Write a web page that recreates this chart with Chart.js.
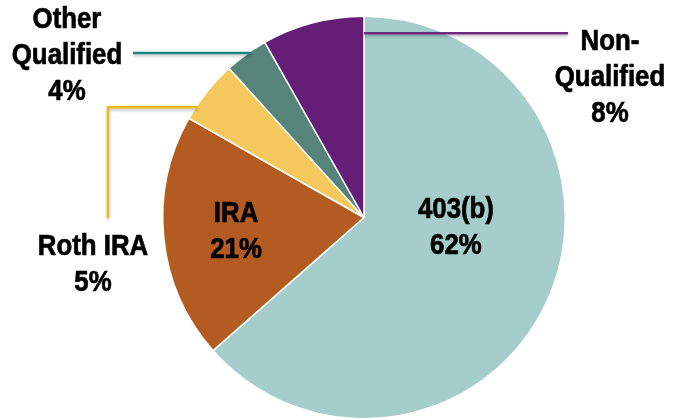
<!DOCTYPE html>
<html>
<head>
<meta charset="utf-8">
<script src="https://cdn.jsdelivr.net/npm/chart.js@4"></script>
<style>
  html, body { margin: 0; padding: 0; background: #fff; }
  #wrap { width: 674px; height: 420px; }
</style>
</head>
<body>
<div id="wrap"><canvas id="chartJSContainer"></canvas></div>
<script>
// slice sizes as drawn in the picture; printed labels as written on it
const categories = ["403(b)", "IRA", "Roth IRA", "Other Qualified", "Non-Qualified"];
const shares = [63.5, 19.7, 5.1, 3.5, 8.2];
const printedPct = ["62%", "21%", "5%", "4%", "8%"];
const sliceColors = ["#A4CDCB", "#B35B20", "#F4C85D", "#56837A", "#651E75"];

const FONT = 'bold 29px "Liberation Sans", Arial, sans-serif';
const SQUEEZE = 0.89; // narrow the type like a condensed face

// where each label goes; outside labels get a leader line
const labelSpots = [
  { lines: ["403(b)"], inside: true, frac: 0.423, rad: 0.46 },
  { lines: ["IRA"], inside: true, frac: 0.49, rad: 0.64 },
  { lines: ["Roth IRA"], x: 93, y: 247, lead: { color: "#F2B71E", frac: 0.22, rad: 0.99, toX: 108, downTo: 218 } },
  { lines: ["Other", "Qualified"], x: 67, y: 20, lead: { color: "#14887E", frac: 0.62, rad: 0.99, toX: 133 } },
  { lines: ["Non-", "Qualified"], x: 610, y: 42, lead: { color: "#6E2A80", frac: 1.0, rad: 0.915, toX: 568 } }
];

const labelPlugin = {
  id: "pieLabels",
  afterDatasetsDraw(chart) {
    const ctx = chart.ctx;
    const arcs = chart.getDatasetMeta(0).data;
    ctx.save();
    arcs.forEach((arc, i) => {
      const spot = labelSpots[i];
      const p = arc.getProps(["x", "y", "startAngle", "endAngle", "outerRadius"], true);
      const pointAt = (frac, rad) => {
        const a = p.startAngle + (p.endAngle - p.startAngle) * frac;
        return { x: p.x + Math.cos(a) * p.outerRadius * rad, y: p.y + Math.sin(a) * p.outerRadius * rad };
      };
      let cx, cy;
      if (spot.inside) {
        const c = pointAt(spot.frac, spot.rad);
        cx = c.x; cy = c.y - 18;
      } else {
        cx = spot.x; cy = spot.y;
        const l = spot.lead;
        const a = pointAt(l.frac, l.rad);
        ctx.save();
        ctx.strokeStyle = l.color;
        ctx.lineWidth = 2.5;
        ctx.shadowColor = "rgba(0,0,0,0.25)";
        ctx.shadowBlur = 3;
        ctx.shadowOffsetY = 2;
        ctx.beginPath();
        ctx.moveTo(a.x, a.y);
        ctx.lineTo(l.toX, a.y);
        if (l.downTo) ctx.lineTo(l.toX, l.downTo);
        ctx.stroke();
        ctx.restore();
      }
      spot.lines.concat([printedPct[i]]).forEach((t, k) => {
        ctx.save();
        ctx.translate(cx, cy + k * 36);
        ctx.scale(SQUEEZE, 1);
        ctx.font = FONT;
        ctx.textAlign = "center";
        ctx.textBaseline = "middle";
        ctx.fillStyle = "#000";
        ctx.strokeStyle = "#000";
        ctx.lineWidth = 0.7;
        ctx.fillText(t, 0, 0);
        ctx.strokeText(t, 0, 0);
        ctx.restore();
      });
    });
    ctx.restore();
  }
};

const ctx = document.getElementById("chartJSContainer").getContext("2d");
new Chart(ctx, {
  type: "pie",
  data: {
    labels: categories,
    datasets: [{
      data: shares,
      backgroundColor: sliceColors,
      borderColor: "#ffffff",
      borderWidth: 1.5
    }]
  },
  options: {
    responsive: true,
    maintainAspectRatio: false,
    animation: false,
    layout: { padding: { left: 162, right: 108, top: 15, bottom: 0 } },
    plugins: {
      legend: { display: false },
      tooltip: { enabled: false }
    }
  },
  plugins: [labelPlugin]
});
</script>
</body>
</html>
